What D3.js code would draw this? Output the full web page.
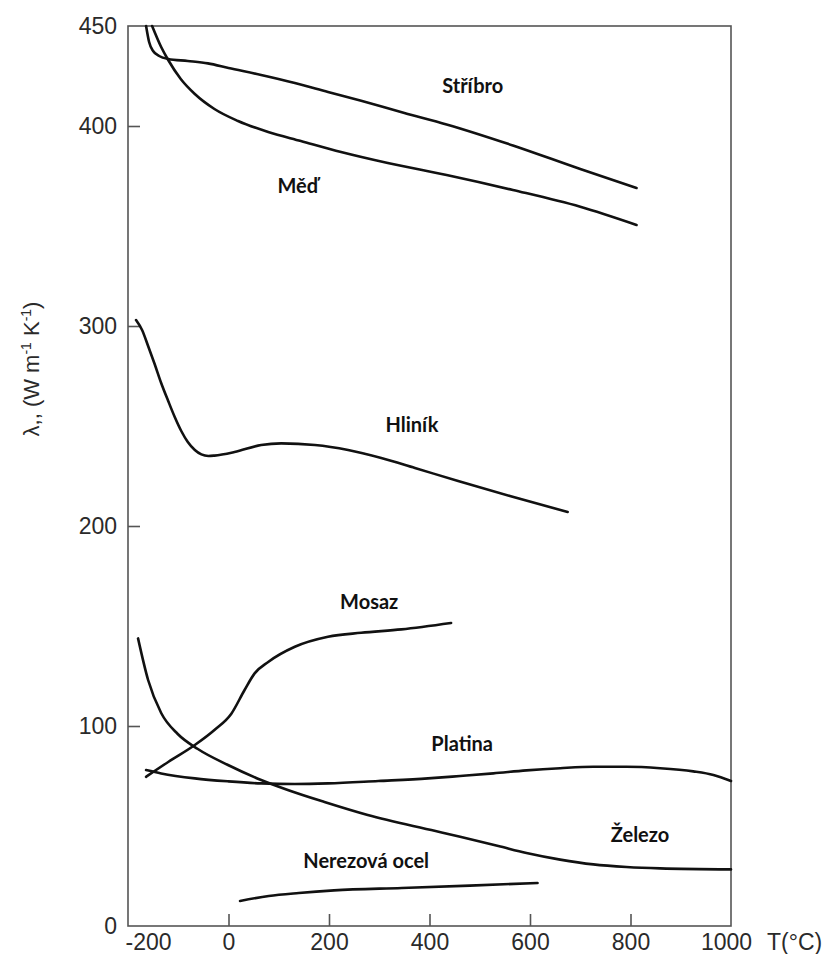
<!DOCTYPE html>
<html>
<head>
<meta charset="utf-8">
<script src="https://cdn.jsdelivr.net/npm/d3@7"></script>
<style>
  body { margin: 0; background: #fff; }
  svg { display: block; }
</style>
</head>
<body>
<div id="chart"></div>
<script>
// curves: [T (°C), lambda (W/m K)]
var stribro = [[-164,450],[-158,442],[-150,437.5],[-138,435],[-120,433.5],[-81,432.5],[-41,431.3],[0,429],[65,425.5],[132,421.5],[198,417],[264,412.6],[350,406.5],[434,400.8],[566,390.3],[700,378.5],[812,369]];
var med = [[-152,450],[-134,439.5],[-120,433],[-95,423.5],[-67,416],[-28,408.5],[19,402.5],[79,397],[144,392.5],[224,387],[317,381.5],[434,375.5],[566,368],[700,359.6],[812,350.5]];
var hlinik = [[-184,303],[-172,298],[-160,290],[-147,281],[-134,271.5],[-120,262.5],[-107,254.5],[-94,247.5],[-81,242],[-67,238],[-54,235.8],[-40,235],[-28,235.2],[12,237],[65,240.5],[105,241.3],[172,240.5],[238,238],[304,234],[371,229],[457,222.5],[560,215],[675,207]];
var mosaz = [[-164,74.6],[-120,82],[-67,90.5],[-28,98],[6,106.3],[32,118],[52,126.3],[79,132],[132,139.6],[198,144.6],[264,146.6],[344,148.3],[443,151.5]];
var platina = [[-164,78],[-134,76.3],[-67,73.8],[0,72.3],[65,71.3],[132,71],[198,71.3],[298,72.5],[397,73.8],[461,75],[527,76.3],[593,77.8],[660,78.9],[726,79.6],[792,79.6],[859,78.9],[925,77.3],[965,75.5],[1000,72.5]];
var zelezo = [[-180,143.8],[-160,123],[-134,106.5],[-101,96],[-61,88.5],[-1,80.5],[65,73],[118,68],[191,62],[277,55.5],[412,47.5],[461,44.6],[537,40],[593,36.5],[660,33.2],[726,30.8],[792,29.5],[859,28.8],[1000,28.3]];
var nerez = [[23,12.5],[80,15],[140,16.5],[210,17.8],[345,19],[480,20.2],[615,21.5]];

var series = [stribro, med, hlinik, mosaz, platina, zelezo, nerez];

var labelNames = ["Stříbro", "Měď", "Hliník", "Mosaz", "Platina", "Železo", "Nerezová ocel"];
var labelT = [486, 138, 365, 280, 465, 819, 274];
var labelL = [420, 370, 250.5, 162, 91, 45.5, 32.5];

var xTicks = [-200, 0, 200, 400, 600, 800, 1000];
var yTicks = [0, 100, 200, 300, 400, 450];

var width = 832,
    height = 954;

var svg = d3.select("#chart")
    .append("svg")
    .attr("width", width)
    .attr("height", height);

var x = d3.scaleLinear().domain([-200, 1000]).range([128, 731]);
var y = d3.scaleLinear().domain([0, 450]).range([926, 26]);

// frame
svg.append("rect")
    .attr("x", x(-200)).attr("y", y(450))
    .attr("width", x(1000) - x(-200)).attr("height", y(0) - y(450))
    .attr("fill", "none")
    .attr("stroke", "#555")
    .attr("stroke-width", 1.6);

var fmt = function (d) { return String(d); };

var xAxis = svg.append("g")
    .attr("transform", "translate(0," + y(0) + ")")
    .call(d3.axisBottom(x).tickValues(xTicks).tickFormat(fmt).tickSizeInner(-12).tickSizeOuter(0).tickPadding(8));
var yAxis = svg.append("g")
    .attr("transform", "translate(" + x(-200) + ",0)")
    .call(d3.axisLeft(y).tickValues(yTicks).tickFormat(fmt).tickSizeInner(-12).tickSizeOuter(0).tickPadding(11));

[xAxis, yAxis].forEach(function (g) {
    g.select(".domain").remove();
    g.selectAll(".tick line").attr("stroke", "#555").attr("stroke-width", 1.6);
    g.selectAll(".tick text")
        .attr("fill", "#2a2a2a")
        .style("font-family", "'Liberation Sans', Arial, sans-serif")
        .style("font-size", "23px");
});
// edge ticks sit on the frame
xAxis.selectAll(".tick").filter(function (d) { return d == -200 || d == 1000; }).select("line").remove();
yAxis.selectAll(".tick").filter(function (d) { return d == 0 || d == 450; }).select("line").remove();
xAxis.selectAll(".tick").filter(function (d) { return d == -200; }).select("text").attr("x", 20);
xAxis.selectAll(".tick").filter(function (d) { return d == 1000; }).select("text").attr("x", -5);

svg.append("text")
    .attr("x", 767).attr("y", y(0) + 8).attr("dy", "0.71em")
    .attr("fill", "#2a2a2a")
    .style("font-family", "'Liberation Sans', Arial, sans-serif")
    .style("font-size", "23px")
    .text("T(°C)");

// y title
var yt = svg.append("text")
    .attr("transform", "translate(39,369) rotate(-90)")
    .attr("text-anchor", "middle")
    .attr("fill", "#2a2a2a")
    .style("font-family", "'Liberation Sans', Arial, sans-serif")
    .style("font-size", "22px");
yt.append("tspan").text("λ,, (W m");
yt.append("tspan").attr("dy", -8).style("font-size", "14px").text("-1");
yt.append("tspan").attr("dy", 8).text(" K");
yt.append("tspan").attr("dy", -8).style("font-size", "14px").text("-1");
yt.append("tspan").attr("dy", 8).text(")");

var line = d3.line()
    .x(function (d) { return x(d[0]); })
    .y(function (d) { return y(d[1]); })
    .curve(d3.curveMonotoneX);

svg.append("g")
    .selectAll("path")
    .data(series)
    .enter()
    .append("path")
    .attr("d", line)
    .attr("fill", "none")
    .attr("stroke", "#111")
    .attr("stroke-width", 2.6)
    .attr("stroke-linecap", "round");

svg.append("g")
    .selectAll("text")
    .data(labelNames)
    .enter()
    .append("text")
    .attr("x", function (d, i) { return x(labelT[i]); })
    .attr("y", function (d, i) { return y(labelL[i]); })
    .attr("dy", "0.36em")
    .attr("text-anchor", "middle")
    .attr("fill", "#111")
    .style("font-family", "Lato, 'Open Sans', sans-serif")
    .style("font-weight", "bold")
    .style("font-size", "20px")
    .text(function (d) { return d; });
</script>
</body>
</html>
